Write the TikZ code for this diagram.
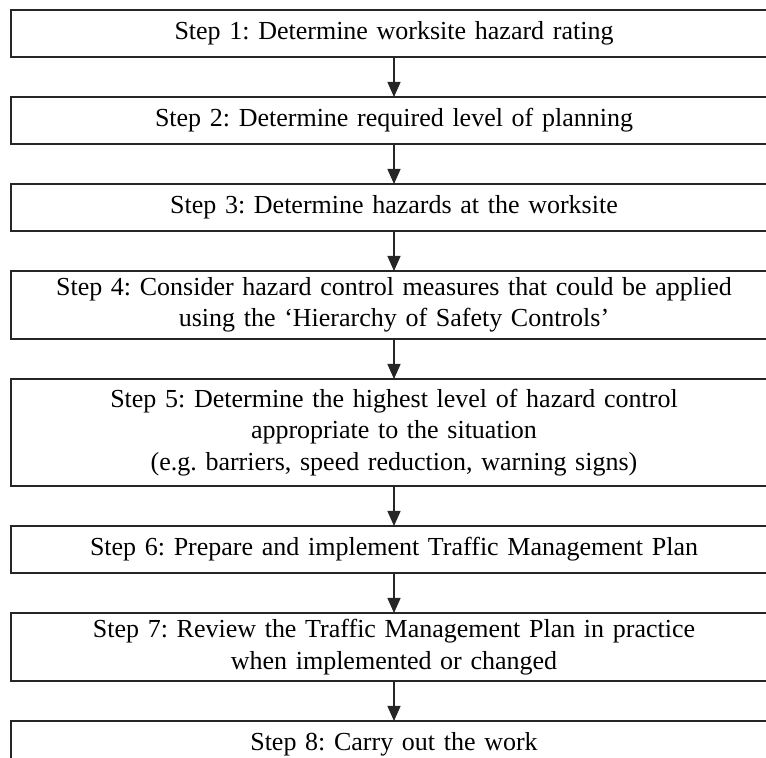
\documentclass[tikz,border=0pt]{standalone}
\usepackage{fontspec}
\setmainfont{Liberation Serif}
\usetikzlibrary{positioning,arrows.meta}

\begin{document}
\frenchspacing
\begin{tikzpicture}[x=0.5pt,y=-0.5pt,
  node distance=20pt,
  stepbox/.style={draw=black!85,line width=0.8pt,minimum width=383pt,
    text width=370pt,align=center,inner sep=0pt,outer sep=0pt,minimum height=23.5pt,
    font=\fontsize{13}{15.75}\selectfont},
  flow/.style={draw=black!85,line width=0.7pt,-{Triangle[length=7.5pt,width=6.5pt]}}]
  \useasboundingbox (0,0) rectangle (766,758);
  \clip (0,0) rectangle (766,758);
  \node[stepbox,anchor=north] (s1) at (394,10) {Step 1: Determine worksite hazard rating};
  \node[stepbox,below=of s1] (s2) {Step 2: Determine required level of planning};
  \node[stepbox,below=of s2] (s3) {Step 3: Determine hazards at the worksite};
  \node[stepbox,below=of s3,minimum height=34pt] (s4) {Step 4: Consider hazard control measures that could be applied\\
    using the ‘Hierarchy of Safety Controls’};
  \node[stepbox,below=of s4,minimum height=53.5pt] (s5) {Step 5: Determine the highest level of hazard control\\
    appropriate to the situation\\
    (e.g. barriers, speed reduction, warning signs)};
  \node[stepbox,below=of s5] (s6) {Step 6: Prepare and implement Traffic Management Plan};
  \node[stepbox,below=of s6,minimum height=34pt] (s7) {Step 7: Review the Traffic Management Plan in practice\\
    when implemented or changed};
  \node[stepbox,below=of s7] (s8) {Step 8: Carry out the work};
  \draw[flow] (s1) -- (s2);
  \draw[flow] (s2) -- (s3);
  \draw[flow] (s3) -- (s4);
  \draw[flow] (s4) -- (s5);
  \draw[flow] (s5) -- (s6);
  \draw[flow] (s6) -- (s7);
  \draw[flow] (s7) -- (s8);
\end{tikzpicture}
\end{document}
